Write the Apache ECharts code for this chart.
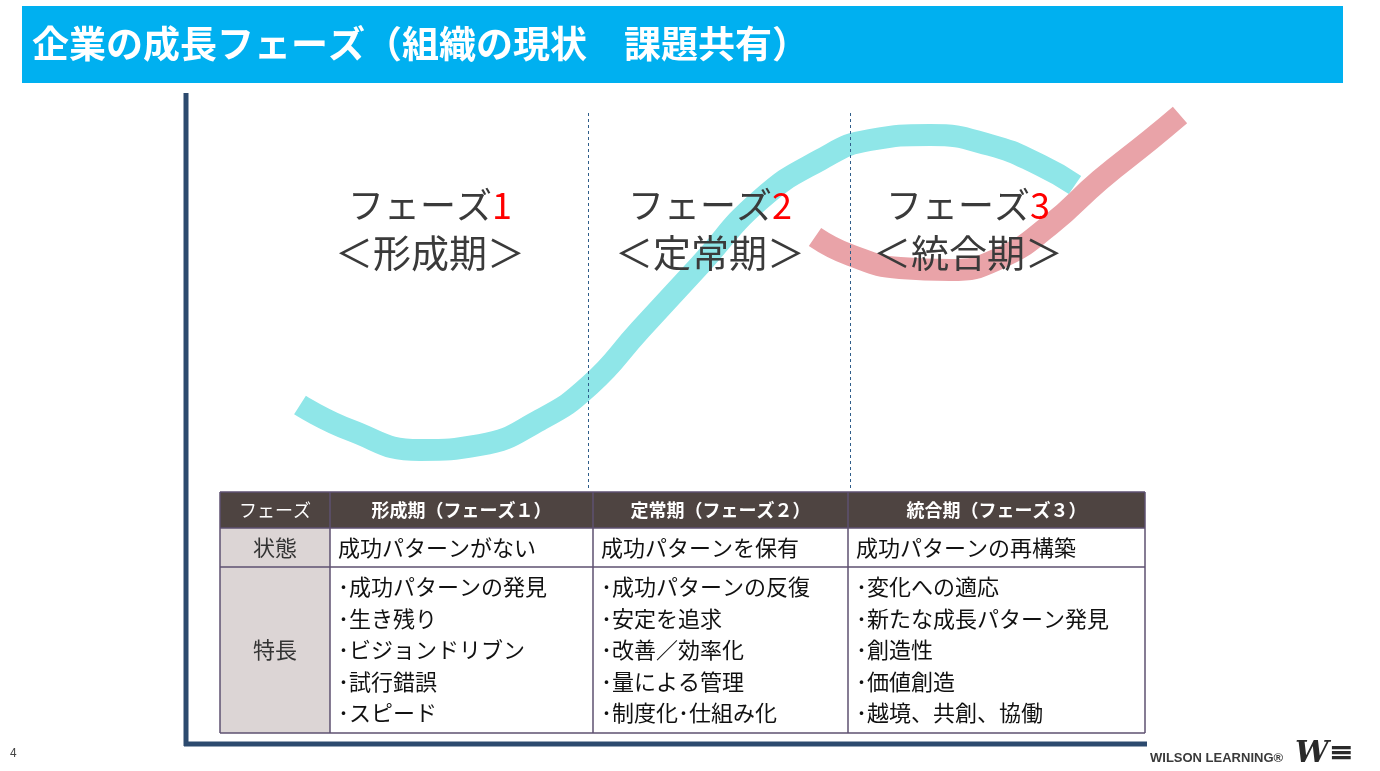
<!DOCTYPE html>
<html>
<head>
<meta charset="utf-8" />
<title>企業の成長フェーズ</title>
<script src="https://cdn.jsdelivr.net/npm/echarts@6/dist/echarts.min.js"></script>
<style>
  html, body { margin: 0; padding: 0; background: #fff; }
  #chart { width: 1380px; height: 771px; }
</style>
</head>
<body>
<div id="chart"></div>
<script>
// curve points, in axis units (x 0..1160, y 0..649)
var growthCurve = [[114,339],[164,314],[234,294],[294,299],[354,324],[404,359],[454,414],[514,479],[574,544],[634,584],[684,604],[744,609],[804,599],[854,579],[889,559]];
var nextCurve = [[629,507],[664,489],[714,476],[764,474],[814,486],[864,519],[914,564],[964,604],[994,629]];
var phaseDividers = [402, 664];

var phaseNames = ['1', '2', '3'];
var phaseTitles = ['＜形成期＞', '＜定常期＞', '＜統合期＞'];
var phaseCenters = [430, 710, 968];

var headerRow = ['フェーズ', '形成期（フェーズ１）', '定常期（フェーズ２）', '統合期（フェーズ３）'];
var stateRow = ['状態', '成功パターンがない', '成功パターンを保有', '成功パターンの再構築'];
var featureLabel = '特長';
var features = [
  ['･成功パターンの発見', '･生き残り', '･ビジョンドリブン', '･試行錯誤', '･スピード'],
  ['･成功パターンの反復', '･安定を追求', '･改善／効率化', '･量による管理', '･制度化･仕組み化'],
  ['･変化への適応', '･新たな成長パターン発見', '･創造性', '･価値創造', '･越境、共創、協働']
];

var colX = [220, 330, 593, 848, 1145];
var rowY = [492, 528, 567, 733];
var font = '"Noto Sans CJK JP", sans-serif';
var lineColor = '#5e5070';

var g = [];
// title bar
g.push({ type: 'rect', shape: { x: 22, y: 6, width: 1321, height: 77 }, style: { fill: '#00b0f0' } });
g.push({ type: 'text', x: 32, y: 44, style: { text: '企業の成長フェーズ（組織の現状　課題共有）', fill: '#fff', font: 'bold 37px ' + font, textVerticalAlign: 'middle' } });

// phase labels
for (var i = 0; i < 3; i++) {
  g.push({ type: 'text', z: 100, x: phaseCenters[i], y: 205, style: {
    text: 'フェーズ{r|' + phaseNames[i] + '}', fill: '#3a3a3a', font: '36px ' + font,
    textAlign: 'center', textVerticalAlign: 'middle',
    rich: { r: { fill: '#ff0000', font: '36px ' + font } } } });
  g.push({ type: 'text', z: 100, x: phaseCenters[i], y: 253, style: {
    text: phaseTitles[i], fill: '#3a3a3a', font: '38px ' + font, textAlign: 'center', textVerticalAlign: 'middle' } });
}

// table backgrounds
g.push({ type: 'rect', shape: { x: colX[0], y: rowY[0], width: colX[4] - colX[0], height: rowY[1] - rowY[0] }, style: { fill: '#4e4441' } });
g.push({ type: 'rect', shape: { x: colX[0], y: rowY[1], width: colX[1] - colX[0], height: rowY[3] - rowY[1] }, style: { fill: '#dcd5d5' } });
g.push({ type: 'rect', shape: { x: colX[1], y: rowY[1], width: colX[4] - colX[1], height: rowY[3] - rowY[1] }, style: { fill: '#fff' } });
for (var r = 0; r < rowY.length; r++) {
  g.push({ type: 'line', shape: { x1: colX[0], y1: rowY[r], x2: colX[4], y2: rowY[r] }, style: { stroke: lineColor, lineWidth: 1.5 } });
}
for (var c = 0; c < colX.length; c++) {
  g.push({ type: 'line', shape: { x1: colX[c], y1: rowY[0], x2: colX[c], y2: rowY[3] }, style: { stroke: lineColor, lineWidth: 1.5 } });
}
for (var c = 0; c < 4; c++) {
  g.push({ type: 'text', x: (colX[c] + colX[c + 1]) / 2, y: (rowY[0] + rowY[1]) / 2, style: {
    text: headerRow[c], fill: '#fff', font: (c ? 'bold 18px ' : '18px ') + font, textAlign: 'center', textVerticalAlign: 'middle' } });
}
g.push({ type: 'text', x: (colX[0] + colX[1]) / 2, y: (rowY[1] + rowY[2]) / 2, style: { text: stateRow[0], fill: '#333', font: '22px ' + font, textAlign: 'center', textVerticalAlign: 'middle' } });
for (var c = 1; c < 4; c++) {
  g.push({ type: 'text', x: colX[c] + 8, y: (rowY[1] + rowY[2]) / 2, style: { text: stateRow[c], fill: '#111', font: '22px ' + font, textVerticalAlign: 'middle' } });
}
g.push({ type: 'text', x: (colX[0] + colX[1]) / 2, y: (rowY[2] + rowY[3]) / 2, style: { text: featureLabel, fill: '#333', font: '22px ' + font, textAlign: 'center', textVerticalAlign: 'middle' } });
for (var c = 0; c < 3; c++) {
  for (var k = 0; k < features[c].length; k++) {
    g.push({ type: 'text', x: colX[c + 1] + 8, y: 587 + k * 31.5, style: { text: features[c][k], fill: '#111', font: '22px ' + font, textVerticalAlign: 'middle' } });
  }
}
// footer
g.push({ type: 'text', x: 10, y: 752, style: { text: '4', fill: '#444', font: '12px ' + font, textVerticalAlign: 'middle' } });
g.push({ type: 'text', x: 1150, y: 758, style: { text: 'WILSON LEARNING®', fill: '#3a3a3a', font: 'bold 13px "Liberation Sans", sans-serif', textVerticalAlign: 'middle' } });
g.push({ type: 'text', x: 1295, y: 754, style: { text: 'W≡', fill: '#2a2a2a', font: 'italic bold 30px "DejaVu Serif", serif', textVerticalAlign: 'middle' } });
// axis frame (left and bottom)
g.push({ type: 'line', shape: { x1: 186, y1: 93, x2: 186, y2: 746 }, style: { stroke: '#2c4a6e', lineWidth: 5 } });
g.push({ type: 'line', shape: { x1: 184, y1: 744, x2: 1147, y2: 744 }, style: { stroke: '#2c4a6e', lineWidth: 5 } });

var chart = echarts.init(document.getElementById('chart'));
chart.setOption({
  animation: false,
  grid: { left: 186, top: 95, width: 1160, height: 649 },
  xAxis: { type: 'value', min: 0, max: 1160, axisLine: { show: false }, axisTick: { show: false }, axisLabel: { show: false }, splitLine: { show: false } },
  yAxis: { type: 'value', min: 0, max: 649, axisLine: { show: false }, axisTick: { show: false }, axisLabel: { show: false }, splitLine: { show: false } },
  series: [
    {
      type: 'line', data: growthCurve, smooth: 0.5, symbol: 'none',
      lineStyle: { color: '#8fe6e8', width: 22, cap: 'butt' },
      markLine: {
        symbol: 'none', silent: true, label: { show: false },
        lineStyle: { color: '#2f5d8a', type: [3, 3], width: 1 },
        data: phaseDividers.map(function (x) { return [{ coord: [x, 631] }, { coord: [x, 254] }]; })
      }
    },
    {
      type: 'line', data: nextCurve, smooth: 0.5, symbol: 'none',
      lineStyle: { color: '#e9a3a8', width: 22, cap: 'butt' }
    }
  ],
  graphic: g
});
</script>
</body>
</html>
